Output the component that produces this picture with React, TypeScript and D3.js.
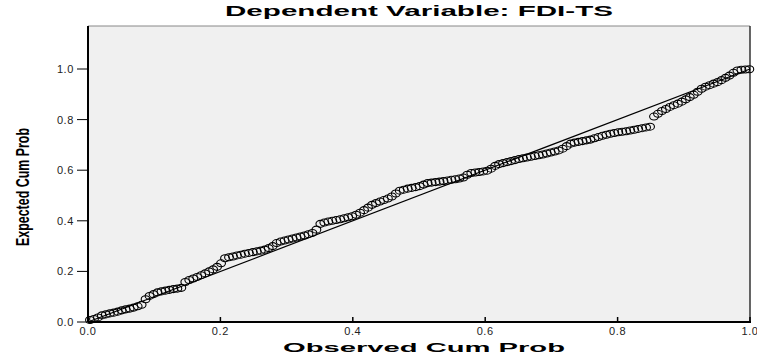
import React from "react";
import * as d3 from "d3";

const titleText = "Dependent Variable: FDI-TS";
const xLabel = "Observed Cum Prob";
const yLabel = "Expected Cum Prob";
const xTicks = [0, 0.2, 0.4, 0.6, 0.8, 1.0];
const yTicks = [0, 0.2, 0.4, 0.6, 0.8, 1.0];

const observedCumProb = [
  0.003, 0.009, 0.015, 0.021, 0.027, 0.033, 0.039, 0.045, 0.051, 0.057,
  0.063, 0.069, 0.075, 0.081, 0.087, 0.093, 0.099, 0.105, 0.111, 0.117,
  0.123, 0.129, 0.135, 0.141, 0.147, 0.153, 0.159, 0.165, 0.171, 0.177,
  0.183, 0.189, 0.195, 0.201, 0.207, 0.213, 0.219, 0.225, 0.231, 0.237,
  0.243, 0.249, 0.255, 0.261, 0.267, 0.273, 0.279, 0.285, 0.291, 0.297,
  0.303, 0.309, 0.315, 0.321, 0.327, 0.333, 0.339, 0.345, 0.351, 0.357,
  0.363, 0.369, 0.375, 0.381, 0.387, 0.393, 0.399, 0.405, 0.411, 0.417,
  0.423, 0.429, 0.435, 0.441, 0.447, 0.453, 0.459, 0.465, 0.471, 0.477,
  0.483, 0.489, 0.495, 0.501, 0.507, 0.513, 0.519, 0.525, 0.531, 0.537,
  0.543, 0.549, 0.555, 0.561, 0.567, 0.573, 0.579, 0.585, 0.591, 0.597,
  0.603, 0.609, 0.615, 0.621, 0.627, 0.633, 0.639, 0.645, 0.651, 0.657,
  0.663, 0.669, 0.675, 0.681, 0.687, 0.693, 0.699, 0.705, 0.711, 0.717,
  0.723, 0.729, 0.735, 0.741, 0.747, 0.753, 0.759, 0.765, 0.771, 0.777,
  0.783, 0.789, 0.795, 0.801, 0.807, 0.813, 0.819, 0.825, 0.831, 0.837,
  0.843, 0.849, 0.855, 0.861, 0.867, 0.873, 0.879, 0.885, 0.891, 0.897,
  0.903, 0.909, 0.915, 0.921, 0.927, 0.933, 0.939, 0.945, 0.951, 0.957,
  0.963, 0.969, 0.975, 0.981, 0.987, 0.993, 0.999,
];

const expectedCumProb = [
  0.008, 0.012, 0.018, 0.026, 0.030, 0.034, 0.037, 0.041, 0.046, 0.050,
  0.053, 0.057, 0.062, 0.068, 0.090, 0.103, 0.110, 0.117, 0.121, 0.124,
  0.127, 0.130, 0.132, 0.135, 0.158, 0.166, 0.172, 0.178, 0.185, 0.192,
  0.200, 0.208, 0.218, 0.232, 0.252, 0.256, 0.259, 0.263, 0.266, 0.270,
  0.273, 0.276, 0.279, 0.282, 0.286, 0.292, 0.300, 0.312, 0.318, 0.322,
  0.326, 0.330, 0.334, 0.338, 0.342, 0.347, 0.352, 0.365, 0.388, 0.393,
  0.397, 0.400, 0.403, 0.406, 0.410, 0.414, 0.418, 0.424, 0.432, 0.442,
  0.452, 0.463, 0.470, 0.476, 0.482, 0.488, 0.496, 0.508, 0.519, 0.523,
  0.527, 0.530, 0.533, 0.537, 0.543, 0.549, 0.551, 0.553, 0.555, 0.557,
  0.559, 0.562, 0.564, 0.567, 0.571, 0.582, 0.589, 0.591, 0.593, 0.595,
  0.598, 0.606, 0.617, 0.624, 0.628, 0.632, 0.636, 0.640, 0.644, 0.647,
  0.650, 0.653, 0.656, 0.659, 0.662, 0.666, 0.670, 0.674, 0.678, 0.685,
  0.695, 0.705, 0.709, 0.712, 0.715, 0.718, 0.721, 0.726, 0.731, 0.736,
  0.740, 0.744, 0.747, 0.750, 0.752, 0.754, 0.757, 0.760, 0.763, 0.766,
  0.769, 0.772, 0.812, 0.823, 0.834, 0.842, 0.850, 0.857, 0.863, 0.871,
  0.880, 0.889, 0.898, 0.910, 0.922, 0.930, 0.936, 0.942, 0.948, 0.956,
  0.965, 0.974, 0.985, 0.994, 0.997, 0.998, 0.999,
];

const W = 757;
const H = 356;
const left = 88;
const right = 750;
const top = 26;
const bottom = 322;

export default function App() {
  const x = d3.scaleLinear().domain([0, 1]).range([left, right]);
  const y = d3.scaleLinear().domain([0, 1]).range([bottom, 69]);
  const fmt = d3.format(".1f");
  const pts = observedCumProb.map((v, i) => [v, expectedCumProb[i]]);
  const diag = d3.line<number[]>().x((d) => x(d[0])).y((d) => y(d[1]))([
    [0, 0],
    [1, 1],
  ]);
  const sans = "'Liberation Sans', Arial, sans-serif";
  return (
    <svg
      width={W}
      height={H}
      style={{ position: "absolute", left: 0, top: 0, background: "#fff" }}
      fontFamily={sans}
    >
      <rect x={left} y={top} width={right - left} height={bottom - top} fill="#f0f0f0" />
      <line x1={left} x2={right} y1={top} y2={top} stroke="#888" strokeWidth={1} />
      <line x1={right} x2={right} y1={top} y2={bottom} stroke="#333" strokeWidth={1.5} />
      <path d={diag || ""} stroke="#000" strokeWidth={1.2} fill="none" />
      {pts.map((p, i) => (
        <ellipse
          key={i}
          cx={x(p[0])}
          cy={y(p[1])}
          rx={4.4}
          ry={3.5}
          fill="none"
          stroke="#000"
          strokeWidth={1.1}
        />
      ))}
      <line x1={left} x2={left} y1={top} y2={bottom} stroke="#000" strokeWidth={2} />
      <line x1={left} x2={right + 1} y1={bottom} y2={bottom} stroke="#000" strokeWidth={2} />
      {yTicks.map((t) => (
        <g key={"y" + t}>
          <line x1={left - 11} x2={left} y1={y(t)} y2={y(t)} stroke="#000" strokeWidth={1} />
          <text
            x={left - 14}
            y={y(t) + 4}
            textAnchor="end"
            fontSize={11}
            fill="#222"
            letterSpacing={0.6}
          >
            {fmt(t)}
          </text>
        </g>
      ))}
      {xTicks.map((t) => (
        <g key={"x" + t}>
          <line x1={x(t)} x2={x(t)} y1={bottom - 5} y2={bottom} stroke="#000" strokeWidth={1.5} />
          <text
            x={x(t)}
            y={bottom + 13}
            textAnchor="middle"
            fontSize={11}
            fill="#222"
            letterSpacing={0.6}
          >
            {fmt(t)}
          </text>
        </g>
      ))}
      <text
        x={419}
        y={16}
        textAnchor="middle"
        fontSize={14.5}
        fontWeight="bold"
        textLength={388}
        lengthAdjust="spacingAndGlyphs"
      >
        {titleText}
      </text>
      <text
        x={424}
        y={352}
        textAnchor="middle"
        fontSize={13.5}
        fontWeight="bold"
        textLength={282}
        lengthAdjust="spacingAndGlyphs"
      >
        {xLabel}
      </text>
      <text
        transform={`translate(29,187) rotate(-90)`}
        textAnchor="middle"
        fontSize={19}
        fontWeight="bold"
        textLength={118}
        lengthAdjust="spacingAndGlyphs"
      >
        {yLabel}
      </text>
    </svg>
  );
}
